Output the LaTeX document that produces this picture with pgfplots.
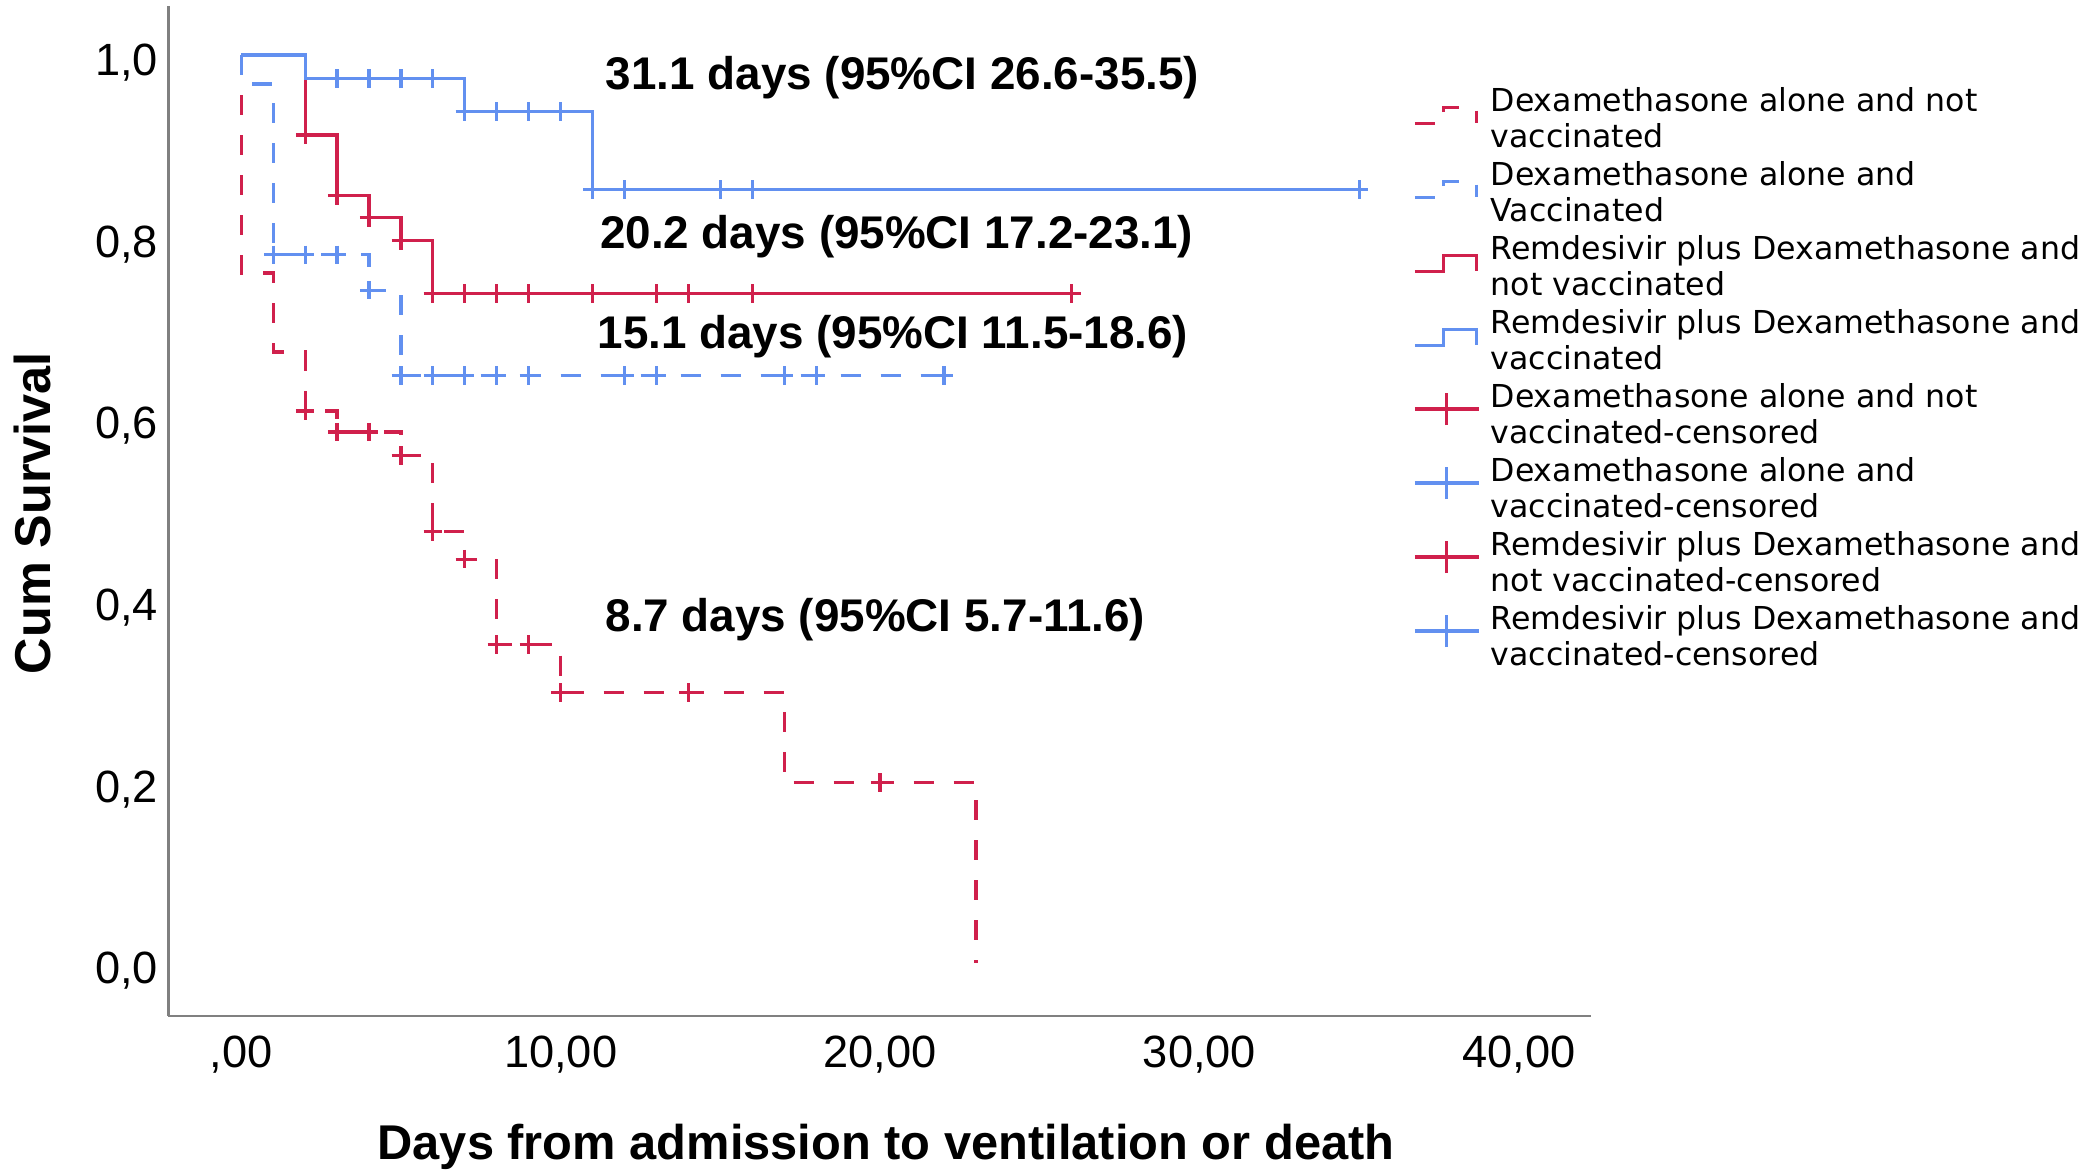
\documentclass[border=0pt]{standalone}
\usepackage{fontspec}
\setmainfont{Liberation Sans}
\newfontfamily\legendfont{DejaVu Sans}
\usepackage{pgfplots}
\pgfplotsset{compat=1.18}
\definecolor{kmred}{RGB}{208,32,76}
\definecolor{kmblue}{RGB}{98,144,240}
\definecolor{axgray}{RGB}{128,128,128}
\tikzset{
  kmline/.style={line width=0.8pt},
  kmdash/.style={line width=0.8pt, dash pattern=on 5pt off 5pt},
}
\begin{document}
\begin{tikzpicture}
\begin{axis}[
  at={(0pt,0pt)}, anchor=south west,
  scale only axis, width=355.6pt, height=252.5pt,
  xmin=-2.28, xmax=42.25, ymin=-0.058, ymax=1.054,
  axis x line=bottom, axis y line=left,
  axis line style={-, axgray, line width=0.7pt},
  major tick length=0pt,
  xtick={0,10,20,30,40},
  xticklabels={{,00},{10,00},{20,00},{30,00},{40,00}},
  ytick={0,0.2,0.4,0.6,0.8,1},
  yticklabels={{0,0},{0,2},{0,4},{0,6},{0,8},{1,0}},
  ticklabel style={font=\fontsize{11.3}{13}\selectfont, text=black},
  xticklabel style={yshift=-1.5pt},
  yticklabel style={yshift=-1.9pt, inner xsep=2.4pt},
  xlabel={Days from admission to ventilation or death},
  ylabel={Cum Survival},
  every axis x label/.style={at={(axis description cs:0.5045,-0.1297)}, anchor=center, font=\bfseries\fontsize{12.2}{14}\selectfont},
  every axis y label/.style={at={(axis description cs:-0.0952,0.498)}, anchor=center, rotate=90, font=\bfseries\fontsize{12.6}{14}\selectfont},
  legend cell align=left,
  legend style={
    at={(rel axis cs:0.8751,0.9263)}, anchor=north west,
    draw=none, fill=none, inner sep=0pt, outer sep=0pt,
    row sep=0pt, column sep=0pt,
    font=\legendfont\fontsize{7.9}{8.8}\selectfont,
    nodes={inner sep=0pt, inner xsep=2.6pt, text depth=0pt, minimum height=18.5pt, align=left},
  },
]
% Kaplan-Meier step curves
\addplot[const plot, no marks, kmred, kmdash,
  legend image code/.code={\draw[kmred, kmdash] (0pt,-1.5pt) -- (7.2pt,-1.5pt) -- (7.2pt,2.4pt) -- (15.4pt,2.4pt) -- (15.4pt,-1.5pt);}]
  coordinates {(0,1) (0,0.760) (1,0.673) (2,0.608) (3,0.585) (5,0.559) (6,0.475) (7,0.445) (8,0.351) (10,0.298) (17,0.199) (23,0)};
\addlegendentry{Dexamethasone alone and not\\vaccinated}
\addplot[const plot, no marks, kmblue, kmdash,
  legend image code/.code={\draw[kmblue, kmdash] (0pt,-1.5pt) -- (7.2pt,-1.5pt) -- (7.2pt,2.4pt) -- (15.4pt,2.4pt) -- (15.4pt,-1.5pt);}]
  coordinates {(0,1) (0,0.968) (1,0.780) (4,0.741) (5,0.647) (22,0.647)};
\addlegendentry{Dexamethasone alone and\\Vaccinated}
\addplot[const plot, no marks, kmred, kmline,
  legend image code/.code={\draw[kmred, kmline] (0pt,-1.5pt) -- (7.2pt,-1.5pt) -- (7.2pt,2.4pt) -- (15.4pt,2.4pt) -- (15.4pt,-1.5pt);}]
  coordinates {(0,1) (2,0.912) (3,0.845) (4,0.821) (5,0.796) (6,0.7376) (26,0.7376)};
\addlegendentry{Remdesivir plus Dexamethasone and\\not vaccinated}
\addplot[const plot, no marks, kmblue, kmline,
  legend image code/.code={\draw[kmblue, kmline] (0pt,-1.5pt) -- (7.2pt,-1.5pt) -- (7.2pt,2.4pt) -- (15.4pt,2.4pt) -- (15.4pt,-1.5pt);}]
  coordinates {(0,1) (2,0.974) (7,0.938) (11,0.852) (35,0.852)};
\addlegendentry{Remdesivir plus Dexamethasone and\\vaccinated}
% censored marks
\addplot[only marks, mark=+, mark size=2.3pt, mark options={kmred, solid, line width=0.8pt},
  legend image code/.code={\draw[kmred, kmline] (0pt,1.1pt) -- (16pt,1.1pt); \draw[kmred, kmline] (7.9pt,-2.9pt) -- (7.9pt,5pt);}]
  coordinates {(2,0.608) (3,0.585) (4,0.585) (5,0.559) (6,0.475) (7,0.445) (8,0.351) (9,0.351) (10,0.298) (14,0.298) (20,0.199)};
\addlegendentry{Dexamethasone alone and not\\vaccinated-censored}
\addplot[only marks, mark=+, mark size=2.3pt, mark options={kmblue, solid, line width=0.8pt},
  legend image code/.code={\draw[kmblue, kmline] (0pt,1.1pt) -- (16pt,1.1pt); \draw[kmblue, kmline] (7.9pt,-2.9pt) -- (7.9pt,5pt);}]
  coordinates {(1,0.780) (2,0.780) (3,0.780) (4,0.741) (5,0.647) (6,0.647) (7,0.647) (8,0.647) (9,0.647) (12,0.647) (13,0.647) (17,0.647) (18,0.647) (22,0.647)};
\addlegendentry{Dexamethasone alone and\\vaccinated-censored}
\addplot[only marks, mark=+, mark size=2.3pt, mark options={kmred, solid, line width=0.8pt},
  legend image code/.code={\draw[kmred, kmline] (0pt,1.1pt) -- (16pt,1.1pt); \draw[kmred, kmline] (7.9pt,-2.9pt) -- (7.9pt,5pt);}]
  coordinates {(2,0.912) (3,0.845) (4,0.821) (5,0.796) (6,0.7376) (7,0.7376) (8,0.7376) (9,0.7376) (11,0.7376) (13,0.7376) (14,0.7376) (16,0.7376) (26,0.7376)};
\addlegendentry{Remdesivir plus Dexamethasone and\\not vaccinated-censored}
\addplot[only marks, mark=+, mark size=2.3pt, mark options={kmblue, solid, line width=0.8pt},
  legend image code/.code={\draw[kmblue, kmline] (0pt,1.1pt) -- (16pt,1.1pt); \draw[kmblue, kmline] (7.9pt,-2.9pt) -- (7.9pt,5pt);}]
  coordinates {(3,0.974) (4,0.974) (5,0.974) (6,0.974) (7,0.938) (8,0.938) (9,0.938) (10,0.938) (11,0.852) (12,0.852) (15,0.852) (16,0.852) (35,0.852)};
\addlegendentry{Remdesivir plus Dexamethasone and\\vaccinated-censored}
% median annotations
\node[anchor=base west, inner sep=0pt, font=\bfseries\fontsize{11.45}{14}\selectfont] at (axis cs:11.39,0.9622) {31.1 days (95\%CI 26.6-35.5)};
\node[anchor=base west, inner sep=0pt, font=\bfseries\fontsize{11.45}{14}\selectfont] at (axis cs:11.21,0.7872) {20.2 days (95\%CI 17.2-23.1)};
\node[anchor=base west, inner sep=0pt, font=\bfseries\fontsize{11.45}{14}\selectfont] at (axis cs:11.13,0.6765) {15.1 days (95\%CI 11.5-18.6)};
\node[anchor=base west, inner sep=0pt, font=\bfseries\fontsize{11.45}{14}\selectfont] at (axis cs:11.38,0.3651) {8.7 days (95\%CI 5.7-11.6)};
\end{axis}
\pgfresetboundingbox
\path[use as bounding box] (-42.1pt,-39.5pt) rectangle (480.65pt,254pt);
\end{tikzpicture}
\end{document}
